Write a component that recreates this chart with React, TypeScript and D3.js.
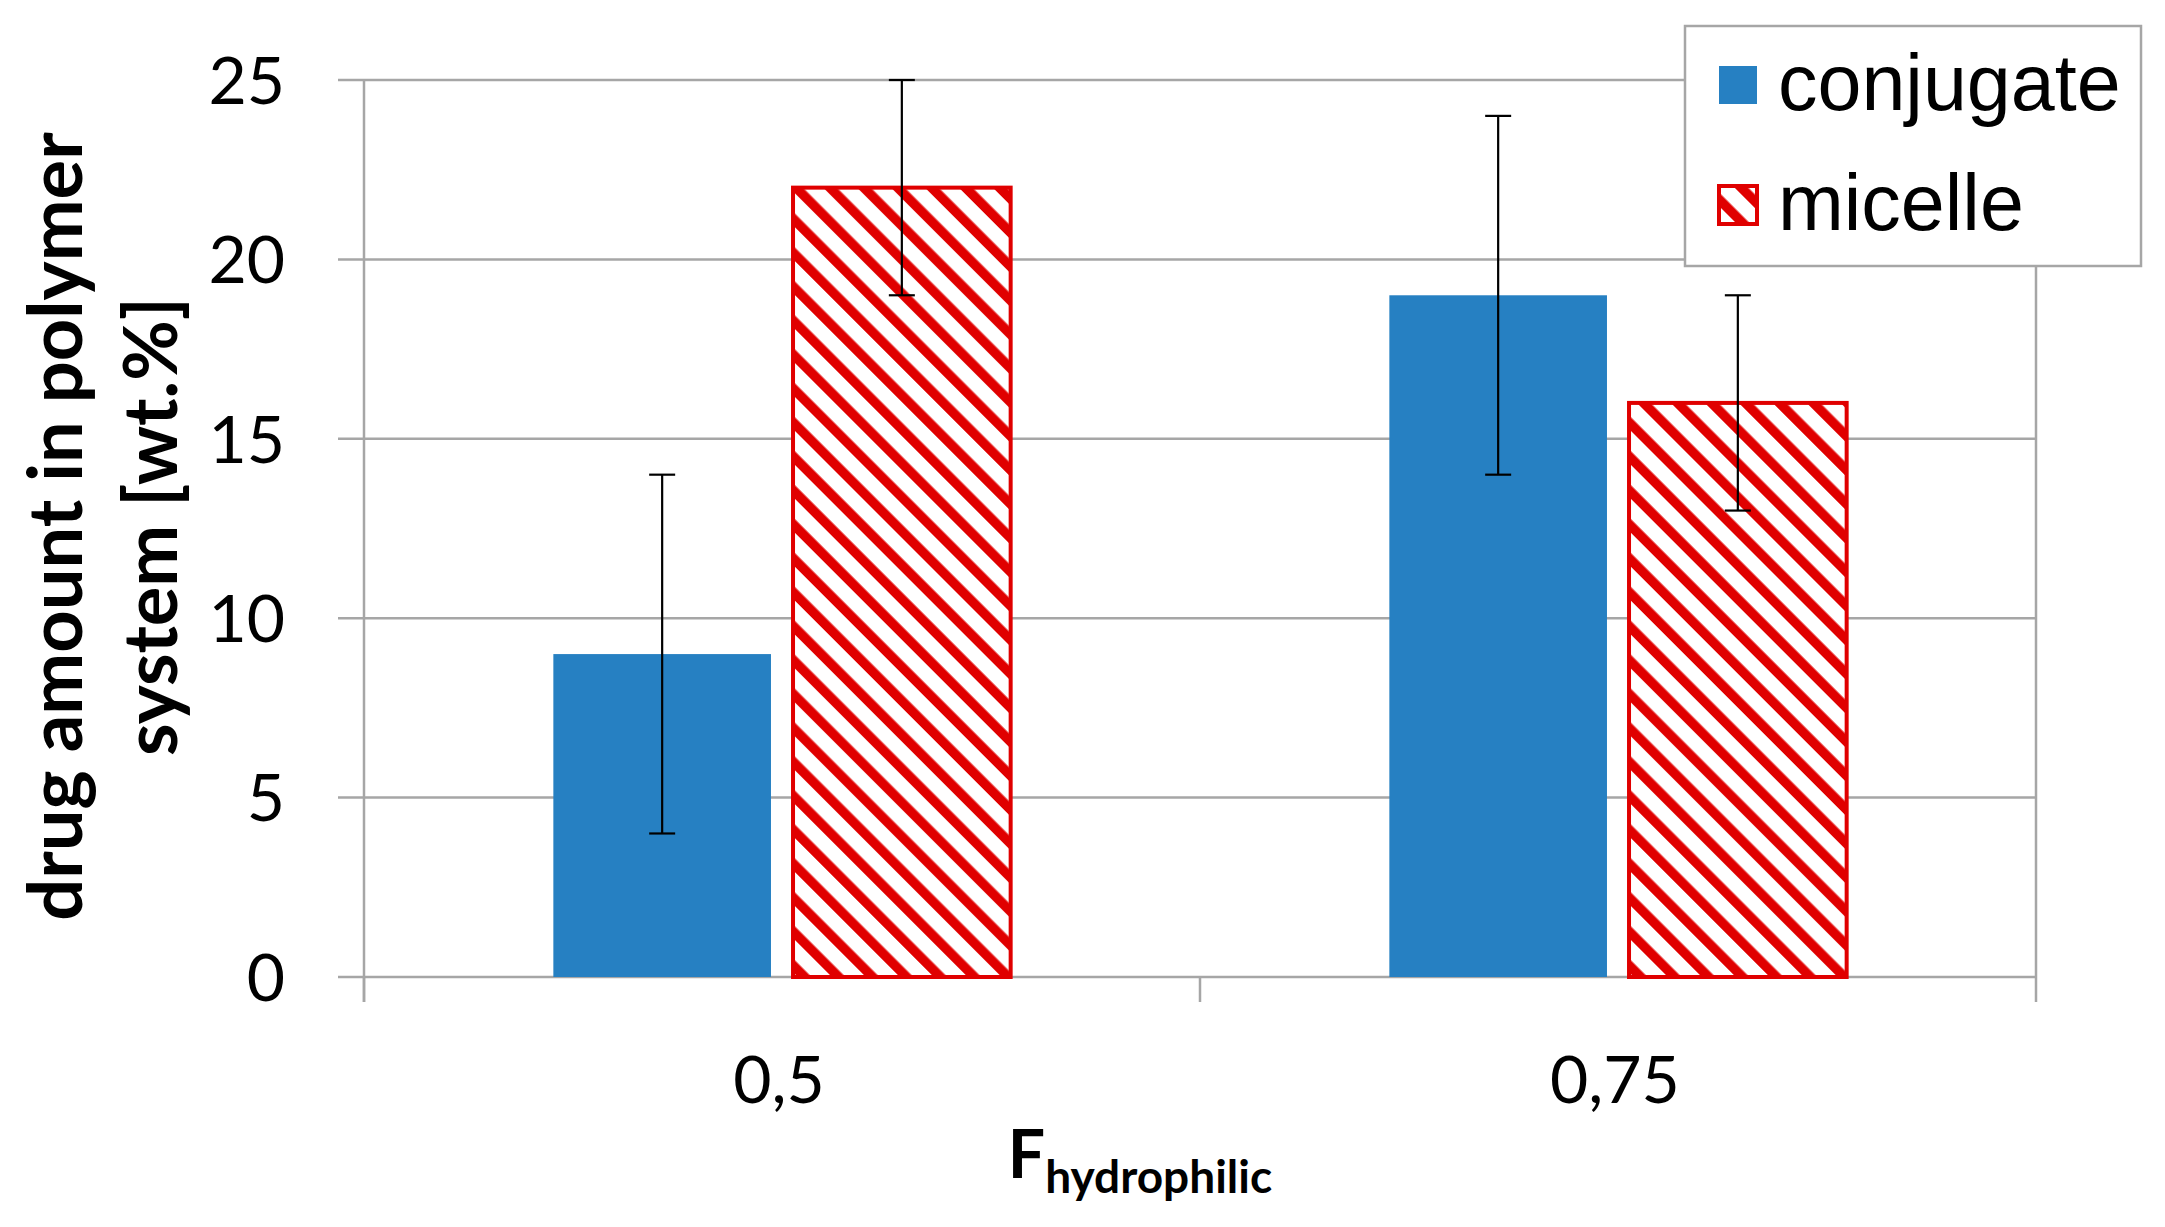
import * as d3 from "d3";
import { useRef, useEffect } from "react";

// chart data
const categories = ["0,5", "0,75"];
const seriesNames = ["conjugate", "micelle"];
const conjugateValues = [9, 19];
const conjugateErrors = [5, 5];
const micelleValues = [22, 16];
const micelleErrors = [3, 3];
const yTicks = [0, 5, 10, 15, 20, 25];

const width = 2165;
const height = 1227;
const marginLeft = 364;
const marginRight = 129; // plot ends at x=2036
const marginTop = 80;
const plotBottom = 977;

const BLUE = "#2680C2";
const RED = "#E00000";
const GRID = "#A6A6A6";

export default function App() {
  const svgRef = useRef<SVGSVGElement | null>(null);

  useEffect(() => {
    if (!svgRef.current) return;
    const svg = d3.select(svgRef.current);
    svg.selectAll("*").remove();

    const rows = categories.map((c, i) => ({
      category: c,
      bars: [
        { name: seriesNames[0], value: conjugateValues[i], err: conjugateErrors[i] },
        { name: seriesNames[1], value: micelleValues[i], err: micelleErrors[i] },
      ],
    }));

    const x0 = d3
      .scaleBand()
      .domain(categories)
      .range([marginLeft, width - marginRight])
      .paddingInner(0)
      .paddingOuter(0);

    const x1 = d3
      .scaleBand()
      .domain(seriesNames)
      .range([0, x0.bandwidth()])
      .paddingInner(0.092)
      .paddingOuter(0.79);

    const y = d3.scaleLinear().domain([0, 25]).range([plotBottom, marginTop]);

    // hatch pattern for micelle (wide downward diagonal)
    const defs = svg.append("defs");
    const period = 24;
    const hatch = defs
      .append("pattern")
      .attr("id", "hatch")
      .attr("patternUnits", "userSpaceOnUse")
      .attr("width", period)
      .attr("height", period)
      .attr("patternTransform", "rotate(-45)");
    hatch.append("rect").attr("width", period).attr("height", period).attr("fill", "#fff");
    hatch
      .append("rect")
      .attr("width", period * 0.4)
      .attr("height", period)
      .attr("fill", RED);

    const color = (name: string) => (name === "conjugate" ? BLUE : "url(#hatch)");

    // gridlines + left tick stubs
    svg
      .append("g")
      .selectAll("line")
      .data(yTicks)
      .join("line")
      .attr("x1", marginLeft - 26)
      .attr("x2", width - marginRight)
      .attr("y1", (d) => y(d))
      .attr("y2", (d) => y(d))
      .attr("stroke", GRID)
      .attr("stroke-width", 2.5);

    // y-axis line
    svg
      .append("line")
      .attr("x1", marginLeft)
      .attr("x2", marginLeft)
      .attr("y1", y(25))
      .attr("y2", plotBottom + 25)
      .attr("stroke", GRID)
      .attr("stroke-width", 2.5);

    // x category ticks (last one doubles as right edge)
    const xTickPos = [marginLeft, ...categories.map((c) => x0(c)! + x0.bandwidth())];
    svg
      .append("g")
      .selectAll("line")
      .data(xTickPos)
      .join("line")
      .attr("x1", (d) => d)
      .attr("x2", (d) => d)
      .attr("y1", (d, i) => (i === xTickPos.length - 1 ? y(25) : plotBottom))
      .attr("y2", plotBottom + 25)
      .attr("stroke", GRID)
      .attr("stroke-width", 2.5);

    // y tick labels
    svg
      .append("g")
      .selectAll("text")
      .data(yTicks)
      .join("text")
      .attr("x", 285)
      .attr("y", (d) => y(d))
      .attr("dy", "0.36em")
      .attr("text-anchor", "end")
      .attr("font-family", "Lato")
      .attr("font-size", 66)
      .attr("fill", "#000")
      .text((d) => d);

    // x tick labels
    svg
      .append("g")
      .selectAll("text")
      .data(categories)
      .join("text")
      .attr("x", (d) => x0(d)! + x0.bandwidth() / 2 - 3)
      .attr("y", 1103)
      .attr("text-anchor", "middle")
      .attr("font-family", "Lato")
      .attr("font-size", 66)
      .attr("fill", "#000")
      .text((d) => d);

    // bars
    rows.forEach((row) => {
      const g = svg.append("g").attr("transform", `translate(${x0(row.category)},0)`);
      g.selectAll("rect")
        .data(row.bars)
        .join("rect")
        .attr("x", (d) => x1(d.name)!)
        .attr("y", (d) => y(d.value))
        .attr("width", x1.bandwidth())
        .attr("height", (d) => y(0) - y(d.value))
        .attr("fill", (d) => color(d.name))
        .attr("stroke", (d) => (d.name === "micelle" ? RED : "none"))
        .attr("stroke-width", 4);

      // error bars
      row.bars.forEach((d) => {
        const cx = x1(d.name)! + x1.bandwidth() / 2;
        const eg = g.append("g").attr("stroke", "#000").attr("stroke-width", 2.2);
        eg.append("line")
          .attr("x1", cx)
          .attr("x2", cx)
          .attr("y1", y(d.value + d.err))
          .attr("y2", y(d.value - d.err));
        [d.value + d.err, d.value - d.err].forEach((v) => {
          eg.append("line")
            .attr("x1", cx - 13)
            .attr("x2", cx + 13)
            .attr("y1", y(v))
            .attr("y2", y(v));
        });
      });
    });

    // y-axis title
    const yTitle = [
      { text: "drug amount in polymer", x: 82 },
      { text: "system [wt.%]", x: 177 },
    ];
    yTitle.forEach((t) => {
      svg
        .append("text")
        .attr("transform", `translate(${t.x},${(marginTop + plotBottom) / 2 - 2}) rotate(-90)`)
        .attr("text-anchor", "middle")
        .attr("font-family", "Lato")
        .attr("font-weight", "bold")
        .attr("font-size", 74)
        .attr("fill", "#000")
        .text(t.text);
    });

    // x-axis title
    const xTitle = svg
      .append("text")
      .attr("x", 1140)
      .attr("y", 1178)
      .attr("text-anchor", "middle")
      .attr("font-family", "Lato")
      .attr("font-weight", "bold")
      .attr("fill", "#000");
    xTitle.append("tspan").attr("font-size", 66).text("F");
    xTitle.append("tspan").attr("font-size", 46).attr("dy", 15).text("hydrophilic");

    // legend
    const legend = svg.append("g").attr("transform", "translate(1685,26)");
    legend
      .append("rect")
      .attr("width", 456)
      .attr("height", 240)
      .attr("fill", "#fff")
      .attr("stroke", GRID)
      .attr("stroke-width", 2.5);

    seriesNames.forEach((name, i) => {
      const item = legend.append("g").attr("transform", `translate(0,${60 + i * 120})`);
      item
        .append("rect")
        .attr("x", 34)
        .attr("y", -20)
        .attr("width", 38)
        .attr("height", 38)
        .attr("fill", color(name))
        .attr("stroke", name === "micelle" ? RED : "none")
        .attr("stroke-width", 4);
      item
        .append("text")
        .attr("x", 93)
        .attr("y", 24)
        .attr("font-family", "Liberation Sans")
        .attr("font-size", 79)
        .attr("fill", "#000")
        .text(name);
    });
  }, []);

  return (
    <svg
      ref={svgRef}
      width={width}
      height={height}
      style={{ position: "absolute", left: 0, top: 0, background: "#fff" }}
    ></svg>
  );
}
